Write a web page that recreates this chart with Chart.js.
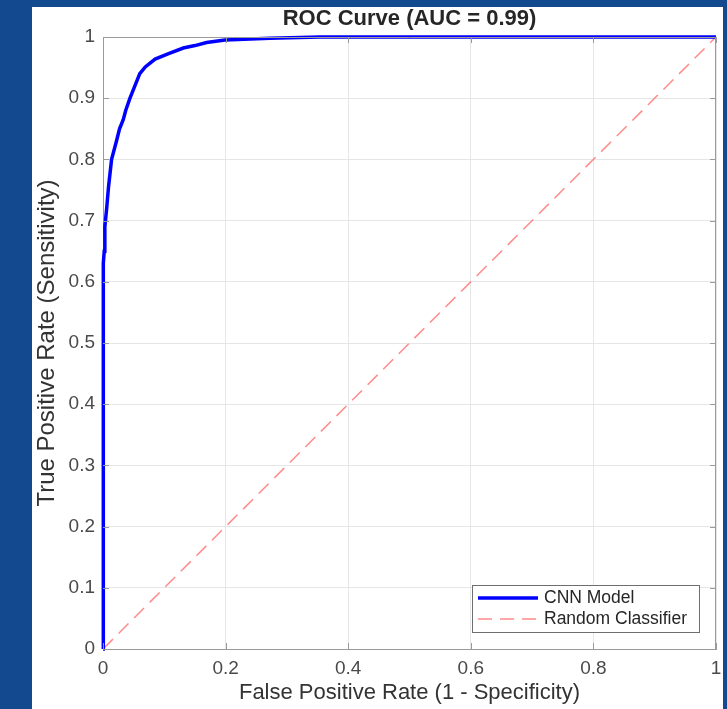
<!DOCTYPE html>
<html>
<head>
<meta charset="utf-8">
<script src="https://cdn.jsdelivr.net/npm/chart.js@4.4.1/dist/chart.umd.min.js"></script>
<style>
  html, body { margin: 0; padding: 0; background: #134a8f; }
  #panel { position: absolute; left: 32px; top: 7px; width: 691px; height: 702px; background: #fff; }
</style>
</head>
<body>
<div id="panel"><canvas id="rocChart" width="691" height="702"></canvas></div>
<script>
  // ROC curve of the CNN model (false positive rate vs true positive rate)
  const fprValues = [0, 0, 0.001, 0.002, 0.003, 0.006, 0.009, 0.014, 0.022, 0.027, 0.033, 0.037, 0.044,
    0.052, 0.060, 0.069, 0.085, 0.107, 0.131, 0.150, 0.169, 0.199, 0.272, 0.354, 1];
  const tprValues = [0, 0.60, 0.63, 0.65, 0.69, 0.72, 0.755, 0.80, 0.83, 0.85, 0.865, 0.88, 0.90,
    0.92, 0.94, 0.951, 0.964, 0.973, 0.982, 0.986, 0.991, 0.995, 0.998, 1.0, 1];

  // chance line
  const randomFpr = [0, 1];
  const randomTpr = [0, 1];

  const seriesLabels = ['CNN Model', 'Random Classifier'];
  const chartTitle = 'ROC Curve (AUC = 0.99)';

  const toPoints = (xs, ys) => xs.map((x, i) => ({ x: x, y: ys[i] }));
  const tickText = (v) => String(Math.round(v * 10) / 10);

  const fontFamily = '"Liberation Sans", Arial, Helvetica, sans-serif';
  const axisGray = '#9a9a9a';

  // title centred over the plot area rather than the canvas
  const plotTitle = {
    id: 'plotTitle',
    afterDraw(chart) {
      const a = chart.chartArea;
      const ctx = chart.ctx;
      ctx.save();
      ctx.font = 'bold 22px ' + fontFamily;
      ctx.fillStyle = '#262626';
      ctx.textAlign = 'center';
      ctx.textBaseline = 'middle';
      ctx.fillText(chartTitle, (a.left + a.right) / 2, 12);
      ctx.restore();
    }
  };

  // box on all four sides with short inward ticks
  const boxPlugin = {
    id: 'axesBox',
    afterDatasetsDraw(chart) {
      const a = chart.chartArea;
      const ctx = chart.ctx;
      const xs = chart.scales.x, ys = chart.scales.y;
      ctx.save();
      ctx.strokeStyle = axisGray;
      ctx.lineWidth = 1;
      ctx.beginPath();
      ctx.moveTo(a.left, a.top + 0.5);
      ctx.lineTo(a.right, a.top + 0.5);
      ctx.moveTo(a.right - 0.5, a.top);
      ctx.lineTo(a.right - 0.5, a.bottom);
      xs.ticks.forEach((t) => {
        const px = Math.round(xs.getPixelForValue(t.value)) + 0.5;
        ctx.moveTo(px, a.bottom);
        ctx.lineTo(px, a.bottom - 6);
        ctx.moveTo(px, a.top);
        ctx.lineTo(px, a.top + 6);
      });
      ys.ticks.forEach((t) => {
        const py = Math.round(ys.getPixelForValue(t.value)) + 0.5;
        ctx.moveTo(a.left, py);
        ctx.lineTo(a.left + 6, py);
        ctx.moveTo(a.right, py);
        ctx.lineTo(a.right - 6, py);
      });
      ctx.stroke();
      ctx.restore();
    }
  };

  // legend box inside the plot, bottom right
  const insideLegend = {
    id: 'insideLegend',
    afterDraw(chart) {
      const a = chart.chartArea;
      const ctx = chart.ctx;
      const w = 228, h = 48;
      const x = a.right - 16 - w;
      const y = a.bottom - 16 - h;
      ctx.save();
      ctx.fillStyle = '#fff';
      ctx.fillRect(x, y, w, h);
      ctx.strokeStyle = '#6e6e6e';
      ctx.lineWidth = 1;
      ctx.strokeRect(x + 0.5, y + 0.5, w - 1, h - 1);
      ctx.font = '17.5px ' + fontFamily;
      ctx.textBaseline = 'middle';
      ctx.fillStyle = '#262626';
      chart.data.datasets.forEach((ds, i) => {
        const rowY = y + 13 + i * 21;
        ctx.strokeStyle = ds.borderColor;
        ctx.lineWidth = ds.borderWidth;
        ctx.setLineDash(ds.borderDash || []);
        ctx.beginPath();
        ctx.moveTo(x + 6, rowY);
        ctx.lineTo(x + 66, rowY);
        ctx.stroke();
        ctx.setLineDash([]);
        ctx.fillText(ds.label, x + 72, rowY);
      });
      ctx.restore();
    }
  };

  new Chart(document.getElementById('rocChart'), {
    type: 'scatter',
    data: {
      datasets: [
        {
          label: seriesLabels[0],
          data: toPoints(fprValues, tprValues),
          showLine: true,
          borderColor: '#0000ff',
          borderWidth: 3.5,
          pointRadius: 0,
          tension: 0,
          clip: 4,
          order: 1
        },
        {
          label: seriesLabels[1],
          data: toPoints(randomFpr, randomTpr),
          showLine: true,
          borderColor: '#ff8a8a',
          borderWidth: 1.5,
          borderDash: [14, 8],
          pointRadius: 0,
          order: 2
        }
      ]
    },
    options: {
      responsive: false,
      animation: false,
      layout: { padding: { top: 30, left: 0, right: 0, bottom: 0 } },
      scales: {
        x: {
          type: 'linear',
          min: 0,
          max: 1,
          ticks: { stepSize: 0.2, padding: 8, color: '#4a4a4a', font: { size: 19, family: fontFamily }, callback: tickText },
          grid: { color: '#e6e6e6', drawTicks: false },
          border: { color: axisGray },
          title: {
            display: true,
            text: 'False Positive Rate (1 - Specificity)',
            color: '#333',
            font: { size: 22, family: fontFamily },
            padding: { top: 0, bottom: 3 }
          },
          afterFit(scale) {
            scale.height = 60;
            scale.paddingLeft = 0;
            scale.paddingRight = 7;
          }
        },
        y: {
          type: 'linear',
          min: 0,
          max: 1,
          ticks: { stepSize: 0.1, padding: 8, color: '#4a4a4a', font: { size: 19, family: fontFamily }, callback: tickText },
          grid: { color: '#e6e6e6', drawTicks: false },
          border: { color: axisGray },
          title: {
            display: true,
            text: 'True Positive Rate (Sensitivity)',
            color: '#333',
            font: { size: 24, family: fontFamily },
            padding: { top: 1, bottom: 0 }
          },
          afterFit(scale) {
            scale.width = 71;
            scale.paddingTop = 0;
            scale.paddingBottom = 0;
          }
        }
      },
      plugins: {
        legend: { display: false },
        tooltip: { enabled: false },
        title: { display: false }
      }
    },
    plugins: [boxPlugin, insideLegend, plotTitle]
  });
</script>
</body>
</html>
